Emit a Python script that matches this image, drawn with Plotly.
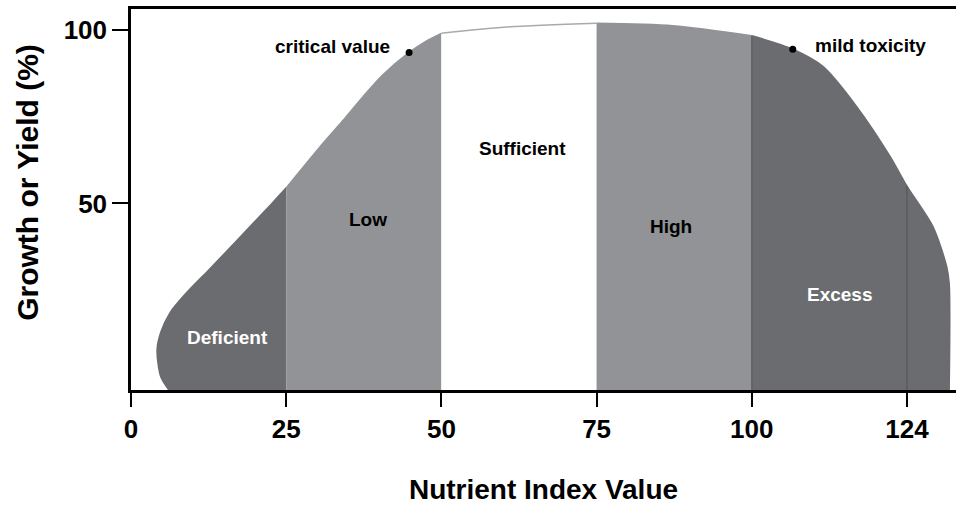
import plotly.graph_objects as go

# ---- data ----
deficient_x = [6.1, 4.8, 4.2, 4.8, 6.3, 8.8, 12.6, 17.4, 22.7, 25.0]
deficient_y = [-3.7, 0.1, 7.8, 12.9, 18.6, 24.0, 31.0, 40.0, 50.0, 54.5]

low_x = [25.0, 30.3, 34.1, 37.3, 40.5, 44.8, 47.5, 50.0]
low_y = [54.5, 66.0, 73.8, 80.6, 86.9, 93.5, 96.7, 99.0]

sufficient_x = [50.0, 60.4, 75.0]
sufficient_y = [99.0, 100.8, 101.9]

high_x = [75.0, 87.3, 100.0]
high_y = [101.9, 101.2, 98.3]

excess_x = [100.0, 106.6, 111.5, 116.9, 122.3, 125.0, 129.2, 131.4, 131.8, 131.8]
excess_y = [98.3, 94.4, 89.4, 77.9, 63.5, 55.0, 43.3, 31.8, 27.0, -3.7]

region_names = ["Deficient", "Low", "Sufficient", "High", "Excess"]
label_x = [15.5, 38.1, 63.1, 87.0, 114.2]
label_y = [11.3, 45.5, 65.7, 43.5, 23.8]
label_color = ["white", "black", "black", "black", "white"]

point_names = ["critical value", "mild toxicity"]
point_x = [44.8, 106.6]
point_y = [93.5, 94.4]

divider_x = [100.0, 125.0]
divider_top = [98.3, 55.0]

x_tickvals = [0, 25, 50, 75, 100, 125]
x_ticktext = ["0", "25", "50", "75", "100", "124"]
y_tickvals = [50, 100]

X_RANGE = [0, 132.9]
Y_RANGE = [-3.7, 106]
BASE = Y_RANGE[0]

DARK = "rgb(107,108,112)"
MID = "rgb(146,147,151)"
WHITE = "white"

FONT = "Liberation Sans, Arial, Helvetica, sans-serif"

fig = go.Figure()

regions = [
    (deficient_x, deficient_y, DARK, DARK),
    (low_x, low_y, MID, MID),
    (sufficient_x, sufficient_y, WHITE, "rgb(170,170,172)"),
    (high_x, high_y, MID, MID),
    (excess_x, excess_y, DARK, DARK),
]

for xs, ys, fillc, linec in regions:
    # baseline along the x axis
    fig.add_trace(go.Scatter(x=[xs[0], xs[-1]], y=[BASE, BASE], mode="lines",
                             line=dict(width=0, color=fillc), hoverinfo="skip"))
    fig.add_trace(go.Scatter(x=xs, y=ys, mode="lines", fill="tonexty",
                             fillcolor=fillc,
                             line=dict(color=linec, width=1.5, shape="spline", smoothing=0.8),
                             hoverinfo="skip"))

# thin divider lines inside the dark region
for dx, dt in zip(divider_x, divider_top):
    fig.add_trace(go.Scatter(x=[dx, dx], y=[BASE, dt], mode="lines",
                             line=dict(color="rgb(80,81,85)", width=1), hoverinfo="skip"))

# marked points
fig.add_trace(go.Scatter(x=point_x, y=point_y, mode="markers",
                         marker=dict(color="black", size=7), hoverinfo="skip"))

fig.add_annotation(x=point_x[0] - 2.8, y=point_y[0] + 1.7, text=point_names[0],
                   showarrow=False, xanchor="right", yanchor="middle",
                   font=dict(family=FONT, size=19, color="black", weight="bold"))
fig.add_annotation(x=point_x[1] + 3.2, y=point_y[1] + 1.1, text=point_names[1],
                   showarrow=False, xanchor="left", yanchor="middle",
                   font=dict(family=FONT, size=19, color="black", weight="bold"))

for name, lx, ly, lc in zip(region_names, label_x, label_y, label_color):
    fig.add_annotation(x=lx, y=ly, text=name, showarrow=False,
                       font=dict(family=FONT, size=19, color=lc, weight="bold"))

# y-axis title (placed slightly above the plot centre, as in the reference)
fig.add_annotation(xref="paper", yref="paper", x=-0.125, y=0.546,
                   text="Growth or Yield (%)", textangle=-90, showarrow=False,
                   xanchor="center", yanchor="middle",
                   font=dict(family=FONT, size=30, color="black", weight="bold"))

fig.update_layout(
    width=956, height=505,
    margin=dict(l=131, r=0, t=9, b=115),
    paper_bgcolor="white", plot_bgcolor="white",
    showlegend=False,
    font=dict(family=FONT, color="black", weight="bold"),
    xaxis=dict(
        range=X_RANGE, showgrid=False, zeroline=False, automargin=False,
        showline=True, linecolor="black", linewidth=2.5, mirror=True,
        ticks="outside", ticklen=14, tickwidth=1.5, tickcolor="black",
        tickvals=x_tickvals, ticktext=x_ticktext,
        tickfont=dict(family=FONT, size=26, color="black", weight="bold"),
        title=dict(text="Nutrient Index Value", standoff=42,
                   font=dict(family=FONT, size=28, color="black", weight="bold")),
    ),
    yaxis=dict(
        range=Y_RANGE, showgrid=False, zeroline=False, automargin=False,
        showline=True, linecolor="black", linewidth=2.5,
        ticks="outside", ticklen=16, tickwidth=1.5, tickcolor="black",
        tickvals=y_tickvals,
        tickfont=dict(family=FONT, size=26, color="black", weight="bold"),
    ),
)

fig.write_html("out.html", config={"displayModeBar": False},
               post_script="document.body.style.margin='0';")
